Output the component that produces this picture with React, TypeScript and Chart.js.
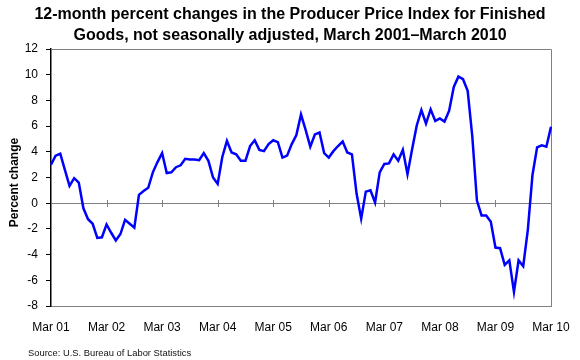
import React, { useEffect, useRef } from "react";
import { Chart, registerables } from "chart.js";

Chart.register(...registerables);

const FONT = '"Liberation Sans", Arial, Helvetica, sans-serif';

const titleLines = [
  "12-month percent changes in the Producer Price Index for Finished",
  "Goods, not seasonally adjusted, March 2001\u2013March 2010",
];
const yAxisTitle = "Percent change";
const sourceNote = "Source: U.S. Bureau of Labor Statistics";

const monthNames = ["Jan", "Feb", "Mar", "Apr", "May", "Jun", "Jul", "Aug", "Sep", "Oct", "Nov", "Dec"];
const yearCodes = ["01", "02", "03", "04", "05", "06", "07", "08", "09", "10"];
const tickLabels = ["Mar 01", "Mar 02", "Mar 03", "Mar 04", "Mar 05", "Mar 06", "Mar 07", "Mar 08", "Mar 09", "Mar 10"];
const yTicks = [-8, -6, -4, -2, 0, 2, 4, 6, 8, 10, 12];

// 12-month percent change, by calendar year (2001 starts in March, 2010 ends in March)
const v2001 = [3.0, 3.7, 3.85, 2.6, 1.35, 1.95, 1.6, -0.4, -1.25, -1.6];
const v2002 = [-2.7, -2.65, -1.65, -2.3, -2.9, -2.4, -1.3, -1.6, -1.9, 0.65, 0.95, 1.2];
const v2003 = [2.4, 3.2, 3.9, 2.35, 2.4, 2.8, 2.95, 3.45, 3.4, 3.4, 3.35, 3.9];
const v2004 = [3.3, 2.0, 1.5, 3.6, 4.85, 3.95, 3.8, 3.3, 3.3, 4.45, 4.9, 4.15];
const v2005 = [4.05, 4.6, 4.9, 4.75, 3.55, 3.7, 4.6, 5.3, 6.9, 5.7, 4.4, 5.35];
const v2006 = [5.5, 3.9, 3.55, 4.05, 4.45, 4.8, 3.95, 3.8, 0.75, -1.2, 0.9, 1.0];
const v2007 = [0.05, 2.4, 3.05, 3.1, 3.8, 3.3, 4.15, 2.25, 4.2, 6.05, 7.25, 6.2];
const v2008 = [7.3, 6.4, 6.6, 6.35, 7.2, 9.05, 9.85, 9.65, 8.75, 5.2, 0.2, -0.95];
const v2009 = [-0.95, -1.45, -3.45, -3.5, -4.8, -4.45, -6.9, -4.45, -4.9, -2.05, 2.2, 4.35];
const v2010 = [4.5, 4.4, 5.95];

const values = [...v2001, ...v2002, ...v2003, ...v2004, ...v2005, ...v2006, ...v2007, ...v2008, ...v2009, ...v2010];

const monthLabels: string[] = [];
yearCodes.forEach((yc, yi) => {
  monthNames.forEach((m, mi) => {
    if (yi === 0 && mi < 2) return;
    if (yi === yearCodes.length - 1 && mi > 2) return;
    monthLabels.push(`${m} ${yc}`);
  });
});

const decorPlugin = {
  id: "decor",
  beforeDatasetsDraw(chart: any) {
    const { ctx, chartArea, scales } = chart;
    const { left, right, top, bottom } = chartArea;
    ctx.save();
    ctx.strokeStyle = "#808080";
    ctx.lineWidth = 1;
    // top and right frame
    ctx.beginPath();
    const t = Math.round(top) + 0.5;
    const r = Math.round(right) + 0.5;
    ctx.moveTo(left, t);
    ctx.lineTo(r, t);
    ctx.lineTo(r, Math.round(bottom));
    ctx.stroke();
    // month tick marks on the zero line
    const y0 = Math.round(scales.y.getPixelForValue(0));
    ctx.beginPath();
    monthLabels.forEach((lab, i) => {
      if (tickLabels.includes(lab) && i > 0) {
        const x = Math.round(scales.x.getPixelForValue(i)) + 0.5;
        ctx.moveTo(x, y0 - 3);
        ctx.lineTo(x, y0 + 4);
      }
    });
    ctx.stroke();
    ctx.restore();
  },
  afterDraw(chart: any) {
    const { ctx, chartArea, width } = chart;
    // main title
    ctx.save();
    ctx.fillStyle = "#000";
    ctx.font = `bold 16px ${FONT}`;
    ctx.textAlign = "center";
    ctx.textBaseline = "middle";
    titleLines.forEach((line, i) => ctx.fillText(line, width / 2, 15 + i * 21));
    ctx.restore();

    // y-axis title
    ctx.save();
    ctx.fillStyle = "#000";
    ctx.font = `bold 12px ${FONT}`;
    ctx.textAlign = "center";
    ctx.textBaseline = "middle";
    ctx.translate(15, (chartArea.top + chartArea.bottom) / 2 + 5);
    ctx.rotate(-Math.PI / 2);
    ctx.fillText(yAxisTitle, 0, 0);
    ctx.restore();

    // source note
    ctx.save();
    ctx.fillStyle = "#111";
    ctx.font = `9.4px ${FONT}`;
    ctx.textAlign = "left";
    ctx.textBaseline = "middle";
    ctx.fillText(sourceNote, 28, 353);
    ctx.restore();
  },
};

export default function App() {
  const ref = useRef<HTMLCanvasElement>(null);
  useEffect(() => {
    const chart = new Chart(ref.current as HTMLCanvasElement, {
      type: "line",
      data: {
        labels: monthLabels,
        datasets: [
          {
            data: values,
            borderColor: "#0000FF",
            borderWidth: 2.5,
            pointRadius: 0,
            tension: 0,
            fill: false,
          },
        ],
      },
      options: {
        responsive: false,
        animation: false,
        layout: { padding: { left: 0, right: 29, top: 49, bottom: 0 } },
        plugins: {
          legend: { display: false },
          tooltip: { enabled: false },
          title: { display: false },
        },
        scales: {
          x: {
            type: "category",
            offset: false,
            grid: { display: false },
            border: { display: true, color: "#808080", width: 1 },
            ticks: {
              autoSkip: false,
              maxRotation: 0,
              minRotation: 0,
              padding: 6,
              color: "#000",
              font: { family: FONT, size: 12 },
              callback: (_v: any, i: number) => (tickLabels.includes(monthLabels[i]) ? monthLabels[i] : null),
            },
            afterFit: (s: any) => {
              s.height = 54;
            },
          },
          y: {
            min: yTicks[0],
            max: yTicks[yTicks.length - 1],
            afterBuildTicks: (s: any) => {
              s.ticks = yTicks.map((v) => ({ value: v }));
            },
            ticks: {
              padding: 8,
              color: "#000",
              font: { family: FONT, size: 12 },
            },
            grid: {
              color: (c: any) => (c.tick && c.tick.value === 0 ? "#808080" : "rgba(0,0,0,0)"),
              lineWidth: 1,
              drawTicks: true,
              tickLength: 5,
              tickColor: "#000",
              tickWidth: 1,
            },
            border: { display: true, color: "#000", width: 1.5 },
            afterFit: (s: any) => {
              s.width = 51;
            },
          },
        },
      } as any,
      plugins: [decorPlugin],
    });
    return () => chart.destroy();
  }, []);
  return (
    <div style={{ position: "fixed", left: 0, top: 0, width: 580, height: 360, background: "#fff" }}>
      <canvas ref={ref} width={580} height={360} style={{ display: "block", width: 580, height: 360 }} />
    </div>
  );
}
